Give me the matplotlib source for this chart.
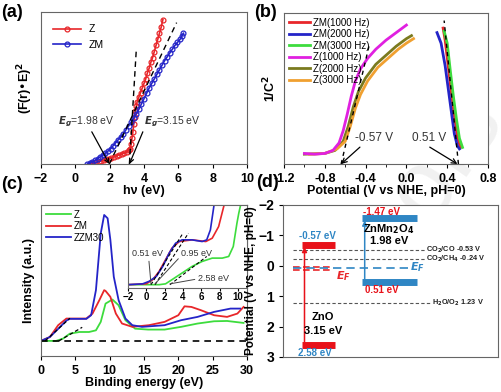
import numpy as np
import matplotlib.pyplot as plt

plt.rcParams['font.family'] = ['Liberation Sans', 'DejaVu Sans']
plt.rcParams['font.weight'] = 'bold'
plt.rcParams['axes.labelweight'] = 'bold'
plt.rcParams['axes.edgecolor'] = '#666666'
plt.rcParams['xtick.labelsize'] = 9
plt.rcParams['ytick.labelsize'] = 9
plt.rcParams['xtick.major.size'] = 3
plt.rcParams['ytick.major.size'] = 3

# ---------- (a) Tauc plot ----------
a_z_x = [0.9, 1.05, 1.2, 1.35, 1.5, 1.65, 1.8, 1.95, 2.1, 2.25, 2.4, 2.55, 2.7, 2.85, 3.0, 3.1, 3.2, 3.25,
         3.3, 3.35, 3.4, 3.45, 3.5, 3.55, 3.6, 3.7, 3.8, 3.9, 4.0, 4.1, 4.2, 4.3, 4.4, 4.5, 4.6, 4.7, 4.8,
         4.9, 5.0, 5.1]
a_z_y = [0.0, 0.005, 0.01, 0.015, 0.02, 0.025, 0.03, 0.035, 0.04, 0.047, 0.055, 0.06, 0.065, 0.072, 0.08,
         0.09, 0.1, 0.13, 0.17, 0.21, 0.26, 0.31, 0.35, 0.38, 0.41, 0.44, 0.47, 0.5, 0.53, 0.56, 0.6, 0.63,
         0.67, 0.7, 0.74, 0.78, 0.82, 0.86, 0.9, 0.95]
a_zm_x = [0.7, 0.85, 1.0, 1.15, 1.3, 1.45, 1.6, 1.75, 1.9, 2.05, 2.2, 2.35, 2.5, 2.65, 2.8, 2.95, 3.1, 3.25,
          3.4, 3.55, 3.7, 3.85, 4.0, 4.15, 4.3, 4.45, 4.6, 4.75, 4.9, 5.05, 5.2, 5.35, 5.5, 5.65, 5.8, 5.95,
          6.1, 6.2, 6.3]
a_zm_y = [0.0, 0.007, 0.015, 0.025, 0.035, 0.047, 0.06, 0.072, 0.085, 0.1, 0.12, 0.14, 0.16, 0.18, 0.2,
          0.225, 0.25, 0.275, 0.3, 0.33, 0.36, 0.395, 0.43, 0.465, 0.5, 0.53, 0.56, 0.59, 0.62, 0.65, 0.68,
          0.705, 0.73, 0.755, 0.78, 0.8, 0.82, 0.84, 0.86]

# ---------- (b) Mott-Schottky ----------
b_labels = ['ZM(1000 Hz)', 'ZM(2000 Hz)', 'ZM(3000 Hz)', 'Z(1000 Hz)', 'Z(2000 Hz)', 'Z(3000 Hz)']
b_colors = ['#e8262a', '#2424c8', '#3ddc3d', '#e020e0', '#7a7a1e', '#f0a030']
b_zm1_x = [0.36, 0.38, 0.41, 0.44, 0.47, 0.50, 0.53]
b_zm1_y = [0.90, 0.82, 0.65, 0.48, 0.32, 0.18, 0.11]
b_zm2_x = [0.30, 0.34, 0.38, 0.41, 0.44, 0.47, 0.50, 0.52]
b_zm2_y = [0.87, 0.80, 0.65, 0.50, 0.35, 0.20, 0.12, 0.10]
b_zm3_x = [0.37, 0.40, 0.43, 0.46, 0.49, 0.52, 0.55]
b_zm3_y = [0.88, 0.80, 0.62, 0.45, 0.30, 0.17, 0.11]
b_z1_x = [-1.0, -0.9, -0.8, -0.72, -0.66, -0.62, -0.58, -0.54, -0.5, -0.45, -0.38, -0.3, -0.2, -0.1, 0.0]
b_z1_y = [0.07, 0.065, 0.07, 0.09, 0.14, 0.22, 0.33, 0.45, 0.55, 0.63, 0.70, 0.76, 0.82, 0.87, 0.92]
b_z2_x = [-1.0, -0.8, -0.7, -0.62, -0.57, -0.52, -0.47, -0.4, -0.3, -0.2, -0.1, 0.0, 0.05]
b_z2_y = [0.065, 0.07, 0.09, 0.15, 0.25, 0.38, 0.48, 0.57, 0.66, 0.72, 0.78, 0.83, 0.85]
b_z3_x = [-0.95, -0.8, -0.68, -0.6, -0.55, -0.5, -0.45, -0.38, -0.28, -0.18, -0.08, 0.0, 0.07]
b_z3_y = [0.065, 0.07, 0.1, 0.15, 0.25, 0.37, 0.46, 0.55, 0.64, 0.70, 0.76, 0.80, 0.83]

# ---------- (c) UPS / VB-XPS ----------
c_zzm_x = [0, 1.3, 2.5, 3.7, 4.2, 5.1, 6.6, 7.3, 8.0, 8.7, 9.2, 9.7, 10.1, 10.6, 11.3, 12.3, 13.3, 14.7, 18.0, 20.4, 22.8, 25.2, 27.6, 29.0]
c_zzm_y = [0.1, 0.126, 0.18, 0.235, 0.246, 0.246, 0.246, 0.27, 0.436, 0.812, 0.934, 0.912, 0.77, 0.525, 0.37, 0.248, 0.204, 0.193, 0.204, 0.237, 0.259, 0.292, 0.314, 0.314]
c_zm_x = [0, 1.3, 2.5, 3.7, 5.1, 6.6, 7.5, 8.5, 9.2, 9.4, 10.1, 10.9, 11.8, 13.3, 15.7, 18.0, 20.0, 20.9, 21.9, 23.3, 25.2, 27.1, 28.6, 29.5]
c_zm_y = [0.1, 0.126, 0.204, 0.248, 0.248, 0.248, 0.281, 0.37, 0.436, 0.431, 0.392, 0.281, 0.215, 0.193, 0.204, 0.226, 0.27, 0.329, 0.325, 0.303, 0.27, 0.259, 0.281, 0.325]
c_z_x = [0, 2.2, 3.2, 4.2, 5.6, 7.0, 8.0, 8.7, 9.4, 10.4, 11.3, 12.3, 13.7, 15.6, 18.0, 20.4, 22.8, 25.2, 27.1, 29.5]
c_z_y = [0.1, 0.1, 0.115, 0.148, 0.159, 0.159, 0.17, 0.226, 0.347, 0.374, 0.336, 0.237, 0.181, 0.175, 0.175, 0.193, 0.215, 0.23, 0.232, 0.219]

# inset (low binding energy)
i_zzm_x = [-2, -0.4, 0.3, 1.1, 1.8, 2.5, 3.2, 3.9, 5.0, 6.1, 6.6, 7.0, 7.4]
i_zzm_y = [0.04, 0.05, 0.08, 0.14, 0.26, 0.42, 0.54, 0.58, 0.58, 0.56, 0.58, 0.70, 1.0]
i_zm_x = [-2, 0.0, 0.7, 1.4, 2.1, 2.8, 3.6, 5.0, 6.5, 7.2, 7.9, 8.5]
i_zm_y = [0.04, 0.05, 0.10, 0.20, 0.34, 0.48, 0.56, 0.58, 0.56, 0.60, 0.74, 1.0]
i_z_x = [-2, 1.4, 2.1, 2.8, 3.9, 5.0, 6.1, 7.2, 8.3, 9.0, 9.5, 9.9, 10.1, 10.5]
i_z_y = [0.04, 0.04, 0.05, 0.10, 0.18, 0.26, 0.32, 0.36, 0.36, 0.38, 0.50, 0.78, 0.90, 1.1]

# ---------- (d) band diagram ----------
zno_cb, zno_vb = -0.57, 2.58
zmo_cb, zmo_vb = -1.47, 0.51
redox_y = [-0.53, -0.24, 1.23]
redox_labels = ['CO$_2$/CO -0.53 V', 'CO$_2$/CH$_4$ -0.24 V', 'H$_2$O/O$_2$ 1.23 V']
ef_zno, ef_zmo = 0.15, 0.08

W, H = 502, 392
fig = plt.figure(figsize=(W / 100, H / 100), dpi=100)


def add_ax(l, t, r, b):
    return fig.add_axes([l / W, 1 - b / H, (r - l) / W, (b - t) / H])


# (a)
ax = add_ax(41, 12, 247, 164)
ax.plot(a_z_x, a_z_y, '-o', color='#e8262a', ms=3.5, mfc='none', mew=0.9, lw=1.2, label='Z')
ax.plot(a_zm_x, a_zm_y, '-o', color='#2424c8', ms=3.5, mfc='none', mew=0.9, lw=1.2, label='ZM')
ax.plot([3.15, 3.55], [0.0, 0.75], '--', color='k', lw=1, dashes=(4, 3))
ax.plot([1.98, 5.9], [0.0, 0.93], '--', color='k', lw=1, dashes=(4, 3))
ax.annotate('$E_g$=1.98 eV', xy=(1.98, 0.0), xytext=(-1.0, 0.23), fontsize=7.5, fontweight='normal',
            color='#333333', arrowprops=dict(arrowstyle='->', color='k', lw=0.9, shrinkA=0, shrinkB=0),
            va='bottom')
ax.annotate('$E_g$=3.15 eV', xy=(3.15, 0.0), xytext=(4.0, 0.23), fontsize=7.5, fontweight='normal',
            color='#333333', arrowprops=dict(arrowstyle='->', color='k', lw=0.9, shrinkA=0, shrinkB=0,
                                             relpos=(0, 0)), va='bottom')
ax.set_xlim(-2, 10)
ax.set_ylim(0, 1)
ax.set_xticks([-2, 0, 2, 4, 6, 8, 10])
ax.set_yticks([])
ax.set_xlabel('hν (eV)', fontsize=9, labelpad=0)
ax.set_ylabel('(F(r)•E)$^2$', fontsize=9, labelpad=4)
ax.legend(loc='upper left', frameon=False, handlelength=2.6, borderaxespad=0.8,
          prop={'weight': 'normal', 'size': 7.5})

# (b)
ax = add_ax(284, 13, 488, 164)
bx = [b_zm1_x, b_zm2_x, b_zm3_x, b_z1_x, b_z2_x, b_z3_x]
by = [b_zm1_y, b_zm2_y, b_zm3_y, b_z1_y, b_z2_y, b_z3_y]
order = [4, 5, 3, 0, 2, 1]
lines = {}
for i in order:
    lines[i], = ax.plot(bx[i], by[i], color=b_colors[i], lw=2, label=b_labels[i])
ax.plot([-0.64, -0.36], [0.0, 0.80], '--', color='k', lw=1, dashes=(3, 3))
ax.plot([0.51, 0.37], [0.0, 0.95], '--', color='k', lw=1, dashes=(3, 3))
ax.annotate('-0.57 V', xy=(-0.64, 0.0), xytext=(-0.5, 0.15), fontsize=8.5, fontweight='normal',
            color='#333333', arrowprops=dict(arrowstyle='->', color='k', lw=0.9, shrinkA=0, shrinkB=0,
                                             relpos=(0.2, 0)))
ax.annotate('0.51 V', xy=(0.5, 0.0), xytext=(0.05, 0.15), fontsize=8.5, fontweight='normal',
            color='#333333', arrowprops=dict(arrowstyle='->', color='k', lw=0.9, shrinkA=0, shrinkB=0,
                                             relpos=(0.4, 0)))
ax.set_xlim(-1.2, 0.8)
ax.set_ylim(0, 1)
ax.set_xticks([-1.2, -0.8, -0.4, 0.0, 0.4, 0.8])
ax.set_xticks(np.arange(-1.2, 0.81, 0.2), minor=True)
ax.set_xticklabels(['-1.2', '-0.8', '-0.4', '0.0', '0.4', '0.8'])
ax.set_yticks([])
ax.set_xlabel('Potential (V vs NHE, pH=0)', fontsize=9, labelpad=0)
ax.set_ylabel('1/C$^2$', fontsize=9)
ax.legend(handles=[lines[i] for i in range(6)], loc='upper left', frameon=False, handlelength=2.2,
          borderaxespad=0.1, labelspacing=0.15, handletextpad=0.3,
          prop={'weight': 'normal', 'size': 7})

# (c)
ax = add_ax(41, 205, 247, 356)
ax.plot(c_z_x, c_z_y, color='#3ddc3d', lw=1.3, label='Z')
ax.plot(c_zm_x, c_zm_y, color='#e8262a', lw=1.3, label='ZM')
ax.plot(c_zzm_x, c_zzm_y, color='#2424c8', lw=1.3, label='ZZM30')
ax.plot([0, 30], [0.1, 0.1], '--', color='k', lw=1.2, dashes=(4, 3))
ax.plot([0.6, 4.2], [0.1, 0.25], '--', color='k', lw=0.9, dashes=(3, 2))
ax.plot([2.6, 6.0], [0.1, 0.19], '--', color='k', lw=0.9, dashes=(3, 2))
ax.set_xlim(0, 30)
ax.set_ylim(0, 1)
ax.set_xticks([0, 5, 10, 15, 20, 25, 30])
ax.set_yticks([])
ax.set_xlabel('Binding energy (eV)', fontsize=9, labelpad=0)
ax.set_ylabel('Intensity (a.u.)', fontsize=9, labelpad=4)
ax.legend(loc='upper left', frameon=False, handlelength=2.6, borderaxespad=0.1, labelspacing=0.15,
          handletextpad=0.3, prop={'weight': 'normal', 'size': 7})

ins = add_ax(128, 205, 247, 288)
ins.plot(i_z_x, i_z_y, color='#3ddc3d', lw=1.2)
ins.plot(i_zm_x, i_zm_y, color='#e8262a', lw=1.2)
ins.plot(i_zzm_x, i_zzm_y, color='#2424c8', lw=1.2)
ins.plot([0.51, 4.0], [0.04, 0.66], '--', color='k', lw=0.8, dashes=(3, 2))
ins.plot([0.95, 4.6], [0.04, 0.66], '--', color='k', lw=0.8, dashes=(3, 2))
ins.plot([2.58, 6.6], [0.04, 0.38], '--', color='k', lw=0.8, dashes=(3, 2))
akw = dict(arrowstyle='-', color='#444444', lw=0.7, shrinkA=0, shrinkB=0)
ins.annotate('0.51 eV', xy=(0.51, 0.05), xytext=(-1.6, 0.38), fontsize=6.5, fontweight='normal',
             color='#333333', arrowprops=dict(akw, relpos=(0.55, 0)))
ins.annotate('0.95 eV', xy=(0.95, 0.05), xytext=(3.8, 0.38), fontsize=6.5, fontweight='normal',
             color='#333333', arrowprops=dict(akw, relpos=(0, 0.3)))
ins.annotate('2.58 eV', xy=(2.58, 0.05), xytext=(5.6, 0.09), fontsize=6.5, fontweight='normal',
             color='#333333', arrowprops=dict(akw, relpos=(0, 0.4)))
ins.set_xlim(-2, 11)
ins.set_ylim(0, 1)
ins.set_xticks([-2, 0, 2, 4, 6, 8, 10])
ins.set_yticks([])
ins.tick_params(axis='x', labelsize=7, length=2, pad=1)

# (d)
ax = add_ax(283, 205, 498, 357)
for y, lab, x1 in zip(redox_y, redox_labels, [6.6, 6.6, 6.9]):
    ax.plot([0.47, x1], [y, y], '--', color='#555555', lw=0.8, dashes=(3, 2))
    ax.text(x1 + 0.05, y, lab, fontsize=5.3, va='center', ha='left', color='#222222')
ax.plot([0.47, 2.3], [ef_zno, ef_zno], '--', color='#e8262a', lw=1.2, dashes=(4, 2))
ax.plot([0.47, 2.3], [ef_zno - 0.12, ef_zno - 0.12], '--', color='#e8262a', lw=1.2, dashes=(4, 2))
ax.plot([0.47, 5.8], [ef_zmo, ef_zmo], '--', color='#2f86c4', lw=1.2, dashes=(5, 3))
ax.text(2.45, ef_zno + 0.2, '$E_F$', color='#e8262a', fontsize=8, fontweight='normal', va='center')
ax.text(5.9, ef_zmo - 0.05, '$E_F$', color='#2f86c4', fontsize=8, fontweight='normal', va='center')
ax.plot([0.88, 2.42], [zno_cb - 0.13, zno_cb - 0.13], color='#e8121a', lw=5, solid_capstyle='butt')
ax.plot([0.88, 2.42], [zno_vb + 0.04, zno_vb + 0.04], color='#e8121a', lw=5, solid_capstyle='butt')
ax.plot([3.67, 6.23], [zmo_cb - 0.09, zmo_cb - 0.09], color='#2f86c4', lw=5, solid_capstyle='butt')
ax.plot([3.67, 6.23], [zmo_vb + 0.03, zmo_vb + 0.03], color='#2f86c4', lw=5, solid_capstyle='butt')
ax.annotate('', xy=(1.0, zno_cb - 0.05), xytext=(1.0, zno_vb - 0.02),
            arrowprops=dict(arrowstyle='-|>', color='#e8121a', lw=1.1, mutation_scale=7, shrinkA=0, shrinkB=0))
ax.annotate('', xy=(3.8, zmo_cb - 0.02), xytext=(3.8, zmo_vb - 0.03),
            arrowprops=dict(arrowstyle='-|>', color='#2f86c4', lw=1.1, mutation_scale=7, shrinkA=0, shrinkB=0))
ax.text(1.6, zno_cb - 0.4, '%.2f eV' % zno_cb, color='#2f86c4', fontsize=7, ha='center', va='center')
ax.text(1.5, zno_vb + 0.3, '%.2f eV' % zno_vb, color='#2f86c4', fontsize=7, ha='center', va='center')
ax.text(4.6, zmo_cb - 0.3, '%.2f eV' % zmo_cb, color='#e8121a', fontsize=7, ha='center', va='center')
ax.text(4.6, zmo_vb + 0.3, '%.2f eV' % zmo_vb, color='#e8121a', fontsize=7, ha='center', va='center')
ax.text(4.93, -1.22, 'ZnMn$_2$O$_4$', fontsize=8, ha='center', va='center')
ax.text(4.93, -0.8, '%.2f eV' % (zmo_vb - zmo_cb), fontsize=8, ha='center', va='center')
ax.text(1.86, 1.68, 'ZnO', fontsize=8, ha='center', va='center')
ax.text(1.86, 2.13, '%.2f eV' % (zno_vb - zno_cb), fontsize=8, ha='center', va='center')
ax.set_xlim(0, 10)
ax.set_ylim(3, -2)
ax.set_yticks([-2, -1, 0, 1, 2, 3])
ax.set_xticks([])
ax.set_ylabel('Potential (V vs NHE, pH=0)', fontsize=8.5, labelpad=1)
ax.tick_params(axis='y', labelsize=10)

for lab, (x, y) in zip(['(a)', '(b)', '(c)', '(d)'], [(1, 4), (254, 4), (1, 176), (256, 174)]):
    fig.text(x / W, 1 - y / H, lab, fontsize=13, fontweight='bold', va='top')

fig.text(0.8, 0.45, 'Proofs', fontsize=70, color='#f1f1f1', rotation=55, ha='center', va='center',
         fontweight='normal', zorder=-1)

fig.savefig('out.png', dpi=100)
